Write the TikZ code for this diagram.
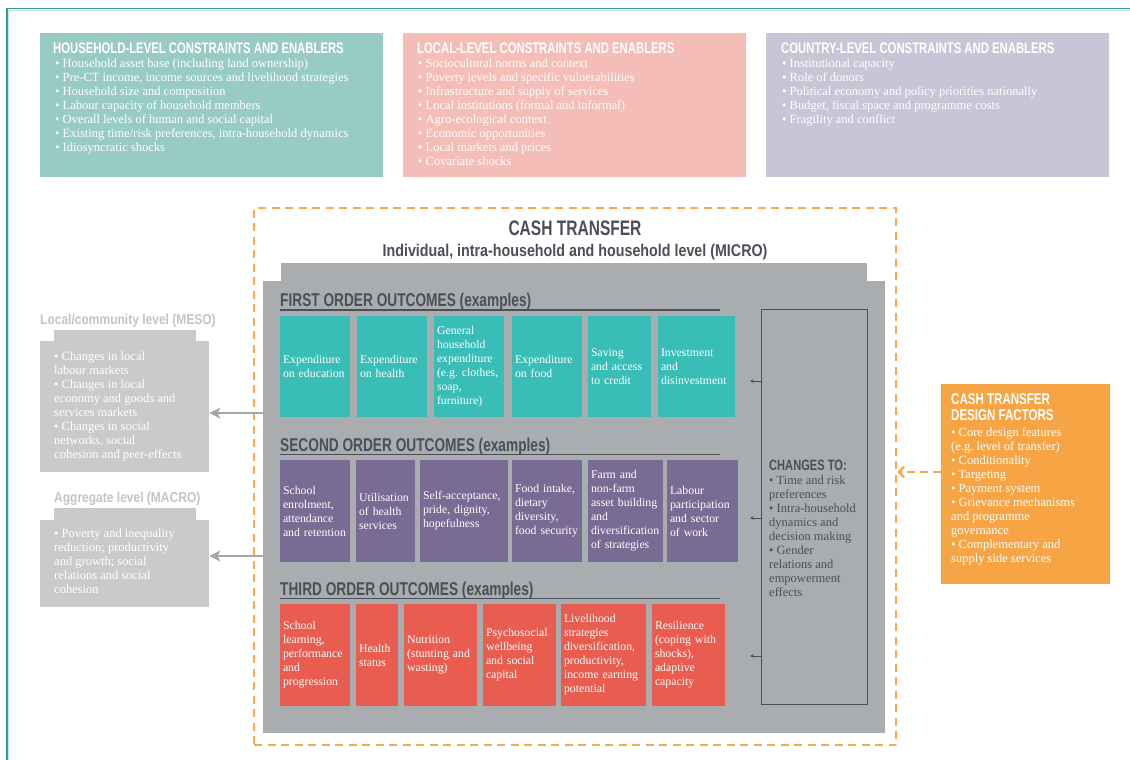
\documentclass[tikz,border=0pt]{standalone}
\usepackage{fontspec}
\setmainfont{Liberation Serif}
\newfontfamily\hfont[FakeStretch=0.74]{Liberation Sans}
\newfontfamily\mfont[FakeStretch=0.84]{Liberation Sans}
\usetikzlibrary{arrows.meta}
\frenchspacing
\definecolor{frameteal}{HTML}{2E9C90}
\definecolor{framelight}{HTML}{C4E4E0}
\definecolor{hhc}{HTML}{99CBC5}
\definecolor{locc}{HTML}{F4BDB8}
\definecolor{ctyc}{HTML}{C9C4D6}
\definecolor{tealc}{HTML}{38BEB7}
\definecolor{purpc}{HTML}{786B94}
\definecolor{redc}{HTML}{E85D50}
\definecolor{panelc}{HTML}{A9ADB0}
\definecolor{darkc}{HTML}{4B4F58}
\definecolor{mesoc}{HTML}{C9CACC}
\definecolor{mesot}{HTML}{C3C4C6}
\definecolor{arrc}{HTML}{A3A7AB}
\definecolor{orc}{HTML}{F7A444}
\definecolor{ordash}{HTML}{F9A84B}
\newcommand\obox[7]{%
  \pgfmathsetmacro\obw{#4-#2}%
  \pgfmathsetmacro\obh{#5-#3}%
  \pgfmathsetmacro\otw{#4-#2-6}%
  \pgfmathsetmacro\ocx{(#2+#4)/2}%
  \pgfmathsetmacro\ocy{(#3+#5)/2}%
  \node[obox, fill=#6, minimum width=\obw pt, minimum height=\obh pt, text width=\otw pt] (#1) at (\ocx,\ocy) {#7};}
\begin{document}
\frenchspacing
\begin{tikzpicture}[x=1pt,y=-1pt,
  hd/.style={font=\hfont\bfseries\fontsize{15.3}{16}\selectfont, text=white, inner sep=0pt, anchor=base west},
  bl/.style={font=\frenchspacing\fontsize{12.5}{14}\selectfont, text=white, inner sep=0pt, align=left, anchor=base west},
  rowtitle/.style={font=\hfont\bfseries\fontsize{18.5}{20}\selectfont, text=darkc, inner sep=0pt, anchor=base west},
  obox/.style={inner xsep=3pt, inner ysep=0pt, align=left, text=white, font=\frenchspacing\fontsize{11.8}{14}\selectfont},
  panelbox/.style={fill=#1, inner sep=0pt, anchor=north west},
  sidetitle/.style={font=\mfont\bfseries\fontsize{14.3}{16}\selectfont, text=mesot, inner sep=0pt, anchor=base west},
  rule/.style={darkc, line width=1.2pt},
  smallarr/.style={darkc, line width=0.8pt, -{Stealth[length=4pt,width=3.5pt]}},
  bigarr/.style={arrc, line width=2.6pt, -{Stealth[length=11pt,width=11pt,inset=3pt]}},
  orarr/.style={ordash, line width=2.4pt, dash pattern=on 8pt off 5pt, -{Straight Barb[length=5pt,width=11pt]}}
]
\useasboundingbox (0,0) rectangle (1130,760);
\fill[white] (0,0) rectangle (1130,760);
% outer frame
\draw[framelight, line width=1pt] (8.5,760) -- (8.5,10.5) -- (1130,10.5);
\draw[frameteal, line width=1.3pt] (7,760) -- (7,8.5) -- (1130,8.5);

% top constraint boxes (multi-line nodes anchored at the baseline of their last line)
\node[panelbox=hhc, minimum width=343pt, minimum height=144pt] (hh) at (40,33) {};
\node[panelbox=locc, minimum width=343pt, minimum height=144pt] (loc) at (403,33) {};
\node[panelbox=ctyc, minimum width=343pt, minimum height=144pt] (cty) at (766,33) {};
\node[hd] (hhT) at (53,54) {HOUSEHOLD-LEVEL CONSTRAINTS AND ENABLERS};
\node[bl] (hhL) at (55,151) {• Household asset base (including land ownership)\\
• Pre-CT income, income sources and livelihood strategies\\
• Household size and composition\\
• Labour capacity of household members\\
• Overall levels of human and social capital\\
• Existing time/risk preferences, intra-household dynamics\\
• Idiosyncratic shocks};
\node[hd] (locT) at (417,54) {LOCAL-LEVEL CONSTRAINTS AND ENABLERS};
\node[bl] (locL) at (418,165) {• Sociocultural norms and context\\
• Poverty levels and specific vulnerabilities\\
• Infrastructure and supply of services\\
• Local institutions (formal and informal)\\
• Agro-ecological context\\
• Economic opportunities\\
• Local markets and prices\\
• Covariate shocks};
\node[hd] (ctyT) at (781,54) {COUNTRY-LEVEL CONSTRAINTS AND ENABLERS};
\node[bl] (ctyL) at (782,123) {• Institutional capacity\\
• Role of donors\\
• Political economy and policy priorities nationally\\
• Budget, fiscal space and programme costs\\
• Fragility and conflict};

% cash transfer frame
\node[draw=ordash, line width=2.4pt, dash pattern=on 8pt off 5.5pt, inner sep=0pt, anchor=north west, minimum width=642pt, minimum height=537pt] (ctframe) at (253,207) {};
\node[font=\hfont\bfseries\fontsize{21}{22}\selectfont, text=darkc, inner sep=0pt, anchor=base] (ctT) at (575,235) {CASH TRANSFER};
\node[font=\mfont\bfseries\fontsize{17}{18}\selectfont, text=darkc, inner sep=0pt, anchor=base] (ctS) at (575,256) {Individual, intra-household and household level (MICRO)};

% grey panel
\node[panelbox=panelc, minimum width=586pt, minimum height=19pt] (tab) at (281,263) {};
\node[panelbox=panelc, minimum width=622pt, minimum height=452pt] (panel) at (263,281) {};

% first order
\node[rowtitle] (r1T) at (280,306) {FIRST ORDER OUTCOMES (examples)};
\draw[rule] (280,310) -- (720,310);
\obox{f1}{280}{316}{350}{417}{tealc}{Expenditure\\on education}
\obox{f2}{357}{316}{427}{417}{tealc}{Expenditure\\on health}
\obox{f3}{434}{316}{504}{417}{tealc}{General\\household\\expenditure\\(e.g. clothes,\\soap,\\furniture)}
\obox{f4}{512}{316}{582}{417}{tealc}{Expenditure\\on food}
\obox{f5}{588}{316}{651}{417}{tealc}{Saving\\and access\\to credit}
\obox{f6}{658}{316}{735}{417}{tealc}{Investment\\and\\disinvestment}

% second order
\node[rowtitle] (r2T) at (280,451) {SECOND ORDER OUTCOMES (examples)};
\draw[rule] (280,454.5) -- (720,454.5);
\obox{s1}{280}{460}{350}{562}{purpc}{School\\enrolment,\\attendance\\and retention}
\obox{s2}{356}{460}{415}{562}{purpc}{Utilisation\\of health\\services}
\obox{s3}{420}{460}{508}{562}{purpc}{Self-acceptance,\\pride, dignity,\\hopefulness}
\obox{s4}{512}{460}{582}{562}{purpc}{Food intake,\\dietary\\diversity,\\food security}
\obox{s5}{588}{460}{663}{562}{purpc}{Farm and\\non-farm\\asset building\\and\\diversification\\of strategies}
\obox{s6}{667}{460}{738}{562}{purpc}{Labour\\participation\\and sector\\of work}

% third order
\node[rowtitle] (r3T) at (280,595) {THIRD ORDER OUTCOMES (examples)};
\draw[rule] (280,598.5) -- (720,598.5);
\obox{t1}{280}{604}{350}{706}{redc}{School\\learning,\\performance\\and\\progression}
\obox{t2}{356}{604}{398}{706}{redc}{Health\\status}
\obox{t3}{404}{604}{477}{706}{redc}{Nutrition\\(stunting and\\wasting)}
\obox{t4}{483}{604}{556}{706}{redc}{Psychosocial\\wellbeing\\and social\\capital}
\obox{t5}{561}{604}{646}{706}{redc}{Livelihood\\strategies\\diversification,\\productivity,\\income earning\\potential}
\obox{t6}{652}{604}{725}{706}{redc}{Resilience\\(coping with\\shocks),\\adaptive\\capacity}

% changes to
\node[draw=darkc, line width=1pt, inner sep=0pt, anchor=north west, minimum width=106pt, minimum height=395pt] (chg) at (761,309) {};
\node[font=\hfont\bfseries\fontsize{15}{16}\selectfont, text=darkc, inner sep=0pt, anchor=base west] (chgT) at (769,470) {CHANGES TO:};
\node[bl, text=darkc] (chgL) at (769,596) {• Time and risk\\preferences\\• Intra-household\\dynamics and\\decision making\\• Gender\\relations and\\empowerment\\effects};
\coordinate (c1) at (750,381);
\coordinate (c2) at (750,518);
\coordinate (c3) at (750,656);
\draw[smallarr] (chg.west |- c1) -- (c1);
\draw[smallarr] (chg.west |- c2) -- (c2);
\draw[smallarr] (chg.west |- c3) -- (c3);

% meso / macro
\node[sidetitle] (mesoT) at (40,324) {Local/community level (MESO)};
\node[panelbox=mesoc, minimum width=142pt, minimum height=12pt] (mesotab) at (54,330) {};
\node[panelbox=mesoc, minimum width=169pt, minimum height=131pt] (meso) at (40,341) {};
\node[bl] (mesoL) at (54,458) {• Changes in local\\labour markets\\• Changes in local\\economy and goods and\\services markets\\• Changes in social\\networks, social\\cohesion and peer-effects};
\node[sidetitle] (macroT) at (54,502) {Aggregate level (MACRO)};
\node[panelbox=mesoc, minimum width=142pt, minimum height=12pt] (macrotab) at (54,508) {};
\node[panelbox=mesoc, minimum width=169pt, minimum height=87pt] (macro) at (40,520) {};
\node[bl] (macroL) at (54,593) {• Poverty and inequality\\reduction; productivity\\and growth; social\\relations and social\\cohesion};
\coordinate (m1) at (0,413);
\coordinate (m2) at (0,556);
\draw[bigarr] (panel.west |- m1) -- (meso.east |- m1);
\draw[bigarr] (panel.west |- m2) -- (macro.east |- m2);

% design factors
\node[panelbox=orc, minimum width=169pt, minimum height=200pt] (dsg) at (941,384) {};
\node[font=\hfont\bfseries\fontsize{15.6}{16}\selectfont, text=white, inner sep=0pt, anchor=base west] (dsgT1) at (951,404) {CASH TRANSFER};
\node[font=\hfont\bfseries\fontsize{15.6}{16}\selectfont, text=white, inner sep=0pt, anchor=base west] (dsgT2) at (951,420) {DESIGN FACTORS};
\node[bl] (dsgL) at (951,562) {• Core design features\\(e.g. level of transfer)\\• Conditionality\\• Targeting\\• Payment system\\• Grievance mechanisms\\and programme\\governance\\• Complementary and\\supply side services};
\coordinate (d1) at (0,472);
\draw[orarr] (dsg.west |- d1) -- (ctframe.east |- d1);
\end{tikzpicture}
\end{document}
